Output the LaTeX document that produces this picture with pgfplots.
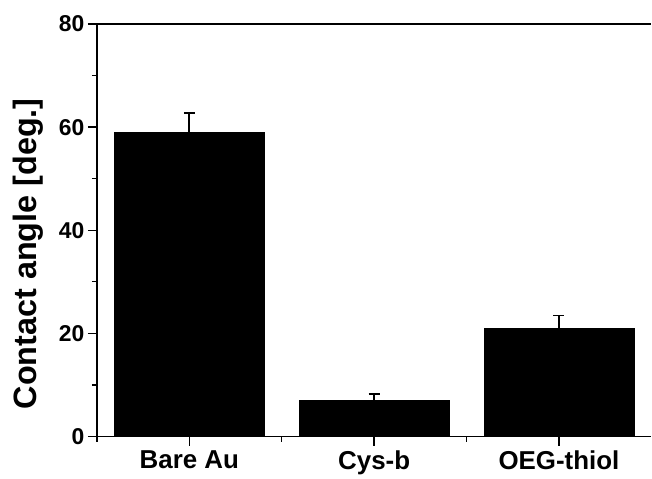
\documentclass[border=0pt]{standalone}
\usepackage{pgfplots}
\pgfplotsset{compat=1.18}
\usepackage{fontspec}
\setmainfont{Liberation Sans}
\begin{document}
\begin{tikzpicture}
\begin{axis}[
  name=main,
  scale only axis,
  width=555bp, height=413bp,
  xmin=-0.5, xmax=2.5,
  ymin=0, ymax=80,
  axis x line*=box,
  axis y line*=left,
  xtick={0,1,2},
  xticklabels={Bare Au, Cys-b, OEG-thiol},
  minor xtick={-0.5,0.5,1.5},
  ytick={0,20,40,60,80},
  minor ytick={10,30,50,70},
  xtick pos=left, ytick pos=left,
  tick align=outside,
  major tick length=9bp,
  minor tick length=5bp,
  every tick/.style={black, line width=1.3bp},
  axis line style={line width=1.3bp},
  x axis line style={-},
  y axis line style={-},
  yticklabel style={font=\bfseries\fontsize{23}{25}\selectfont},
  xticklabel style={font=\bfseries\fontsize{26}{28}\selectfont, yshift=-2bp},
  /pgf/number format/assume math mode=true,
  ylabel={Contact angle [deg.]},
  every axis y label/.style={at={(axis description cs:-0.1243,0.443)}, rotate=90, anchor=center, font=\bfseries\fontsize{32.5}{34}\selectfont},
  clip=false,
]
\addplot[ybar, bar width=0.81, fill=black, draw=black,
  error bars/.cd, y dir=plus, y explicit,
  error bar style={line width=1.7bp, black},
  error mark options={mark size=5.5bp, line width=1.7bp, black, rotate=90}]
  coordinates {(0,59) +- (0,3.8) (1,7) +- (0,1.2) (2,21) +- (0,2.5)};
\end{axis}
\path ([xshift=-97bp,yshift=24bp]main.north west);
\path ([yshift=-37bp]main.south east);
\end{tikzpicture}
\end{document}
